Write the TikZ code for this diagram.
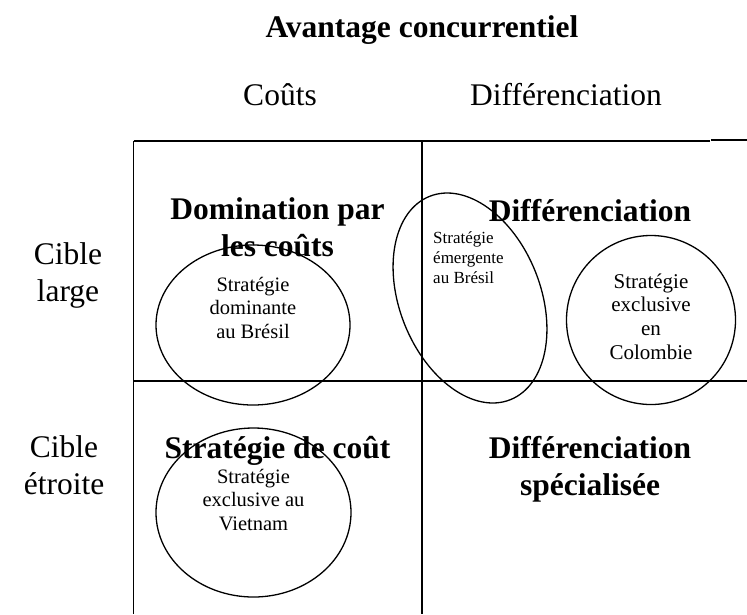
\documentclass[tikz,border=0pt]{standalone}
\usepackage{fontspec}
\setmainfont{Liberation Serif}
\usetikzlibrary{shapes.geometric}
\begin{document}
\begin{tikzpicture}[x=1pt,y=-1pt,
  gridline/.style={line width=1.3pt},
  bubble/.style={draw, ellipse, inner sep=0pt, outer sep=0pt, line width=1.3pt},
  bigbold/.style={font=\fontsize{31.5}{36.5}\selectfont\bfseries, align=center, inner sep=0pt, anchor=base},
  axislabel/.style={font=\fontsize{31.5}{37}\selectfont, align=center, inner sep=0pt, anchor=base},
  smalltxt/.style={font=\fontsize{20.5}{23.5}\selectfont, align=center, inner sep=0pt, anchor=base},
  tinytxt/.style={font=\fontsize{17}{20}\selectfont, align=left, inner sep=0pt, anchor=base west},
]
\useasboundingbox (0,0) rectangle (747,614);

% grid
\draw[gridline] (133.5,141) -- (710,141);
\draw[line width=2pt] (711,139.5) -- (747,139.5);
\draw[gridline] (133.5,141) -- (133.5,614);
\draw[gridline] (422,141) -- (422,614);
\draw[gridline] (133.5,381) -- (747,381);

% headings
\node[bigbold] (title) at (422,37) {Avantage concurrentiel};
\node[axislabel] (couts) at (280,105) {Coûts};
\node[axislabel] (diff) at (566,105) {Différenciation};
\node[axislabel] (large) at (68,301) {Cible\\large};
\node[axislabel] (etroite) at (64,494) {Cible\\étroite};

% quadrant labels
\node[bigbold] (qdom) at (277.5,256) {Domination par\\les coûts};
\node[bigbold] (qdiff) at (590,221) {Différenciation};
\node[bigbold] (qcout) at (277.5,458) {Stratégie de coût};
\node[bigbold] (qspec) at (590,495) {Différenciation\\spécialisée};

% bubbles
\node[bubble, minimum width=194pt, minimum height=160pt] (bdom) at (253,325) {};
\node[smalltxt] (tdom) at (253,338) {Stratégie\\dominante\\au Brésil};

\node[bubble, minimum width=195pt, minimum height=169pt] (bviet) at (253.5,512.5) {};
\node[smalltxt] (tviet) at (253.5,530) {Stratégie\\exclusive au\\Vietnam};

\node[bubble, minimum width=141pt, minimum height=218.8pt, rotate=21.6] (bemer) at (470,298) {};
\node[tinytxt] (temer) at (433,283) {Stratégie\\émergente\\au Brésil};

\node[bubble, minimum width=169pt, minimum height=169pt] (bcol) at (651,320) {};
\node[smalltxt, font=\fontsize{21}{23.6}\selectfont] (tcol) at (651,359) {Stratégie\\exclusive\\en\\Colombie};
\end{tikzpicture}
\end{document}
